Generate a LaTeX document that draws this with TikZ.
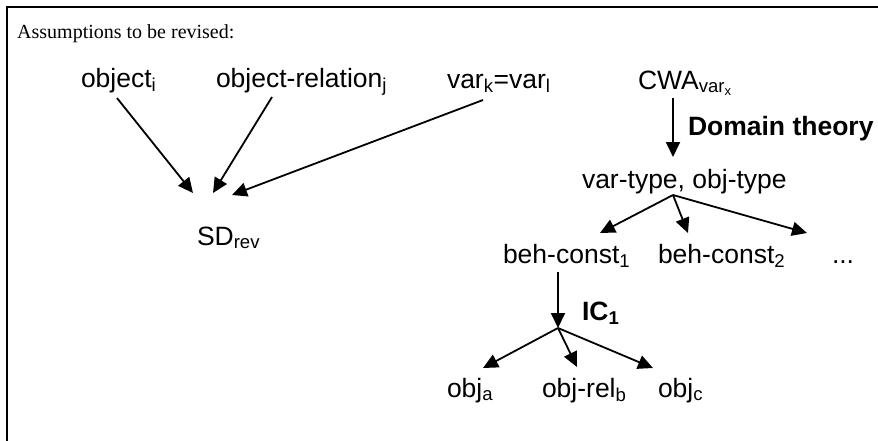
\documentclass[tikz,border=0pt]{standalone}
\usepackage{fontspec}
\setmainfont{Liberation Serif}
\newfontfamily\labelfont{Liberation Sans}
\usetikzlibrary{arrows.meta,calc}

\tikzset{
  lbl/.style={anchor=base west, inner sep=0pt, outer sep=0pt,
    font=\labelfont\fontsize{26.5}{30}\selectfont},
  boldlbl/.style={lbl, font=\labelfont\bfseries\fontsize{26.5}{30}\selectfont},
  arr/.style={line width=1.8pt, -{Triangle[length=15pt,width=14pt]}},
}

\begin{document}
\begin{tikzpicture}[x=1pt,y=-1pt]
\clip (0,0) rectangle (878,440);
\useasboundingbox (0,0) rectangle (878,440);

% frame (right and bottom edges fall outside the page)
\draw[line width=2pt] (7,460) -- (7,7) -- (900,7);

\node[anchor=base west, inner sep=0pt, font=\fontsize{20}{24}\selectfont]
  (title) at (17,38) {Assumptions to be revised:};

% assumptions feeding the revised domain
\node[lbl] (obji)   at (81,87)  {object\textsubscript{i}};
\node[lbl] (objrel) at (216,87) {object-relation\textsubscript{j}};
\node[lbl] (vareq)  at (447,88) {var\textsubscript{k}=var\textsubscript{l}};
\node[lbl] (sd)     at (197,245) {SD\textsubscript{rev}};

% closed world assumption and its consequences
\node[lbl] (cwa) at (638,89) {CWA\textsubscript{var\textsubscript{x}}};
\node[boldlbl] (dom) at (688,135) {Domain theory};
\node[lbl] (vt)  at (582,188) {var-type, obj-type};
\node[lbl] (bc1) at (503,263) {beh-const\textsubscript{1}};
\node[lbl] (bc2) at (658,263) {beh-const\textsubscript{2}};
\node[lbl] (dots) at (832,263) {...};
\node[boldlbl] (ic) at (582,320) {IC\textsubscript{1}};
\node[lbl] (obja)    at (447,397) {obj\textsubscript{a}};
\node[lbl] (objrelb) at (542,397) {obj-rel\textsubscript{b}};
\node[lbl] (objc)    at (658,397) {obj\textsubscript{c}};

\coordinate (fork1) at ($(vt.base west)+(91,7)$);
\coordinate (fork2) at ($(bc1.base west)+(55,65)$);

% arrows into SD_rev
\draw[arr] ($(obji.base west)+(36,11)$) -- ($(sd.base west)+(-4,-52)$);
\draw[arr] ($(objrel.base west)+(56,10)$) -- ($(sd.base west)+(16,-52)$);
\draw[arr] ($(vareq.base west)+(36,12)$) -- ($(sd.base west)+(35,-50)$);

% domain theory branch
\draw[arr] ($(cwa.base west)+(35,9)$) -- ($(vt.base west)+(91,-31)$);
\draw[arr] (fork1) -- ($(bc1.base west)+(97,-30)$);
\draw[arr] (fork1) -- ($(bc2.base west)+(30,-30)$);
\draw[arr] (fork1) -- ($(dots.base west)+(-25,-30)$);

% integrity constraint branch
\draw[arr] ($(bc1.base west)+(55,9)$) -- (fork2);
\draw[arr] (fork2) -- ($(obja.base west)+(36,-29)$);
\draw[arr] (fork2) -- ($(objrelb.base west)+(35,-30)$);
\draw[arr] (fork2) -- ($(objc.base west)+(-5,-29)$);
\end{tikzpicture}
\end{document}
